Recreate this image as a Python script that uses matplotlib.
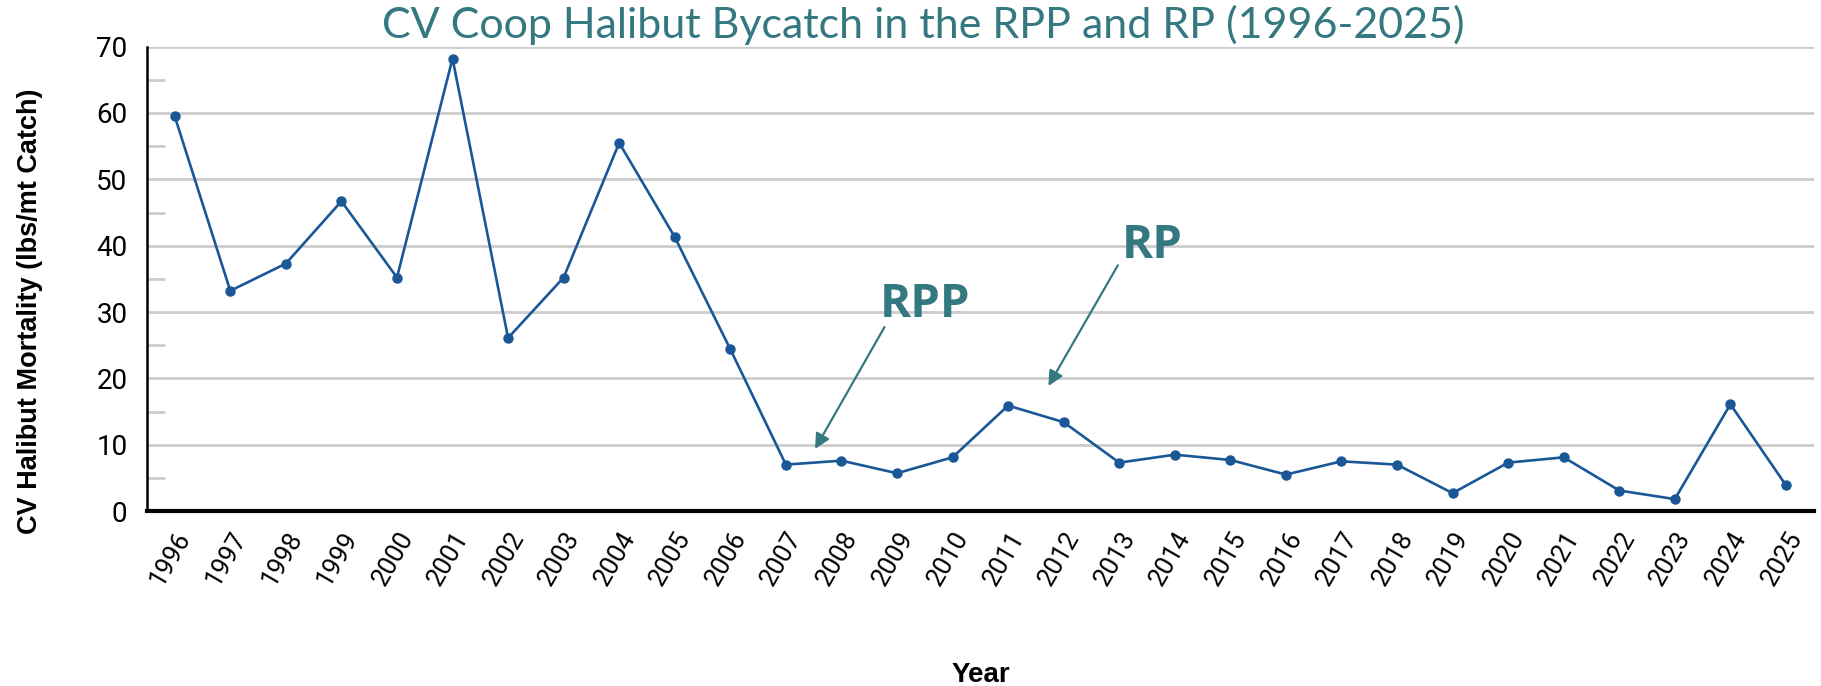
import matplotlib
matplotlib.use("Agg")
import matplotlib.pyplot as plt
from matplotlib.ticker import MultipleLocator

years = list(range(1996, 2026))
mortality = [59.5, 33.2, 37.3, 46.7, 35.2, 68.2, 26.1, 35.2, 55.5, 41.3,
             24.4, 7.0, 7.6, 5.7, 8.1, 15.9, 13.4, 7.3, 8.5, 7.7,
             5.5, 7.5, 7.0, 2.7, 7.3, 8.1, 3.1, 1.8, 16.1, 3.9]

title = "CV Coop Halibut Bycatch in the RPP and RP (1996-2025)"
teal = "#347880"
blue = "#1a5797"

fig = plt.figure(figsize=(18.21, 6.86), dpi=100)
ax = fig.add_axes([0.0807, 0.255, 0.9153, 0.677])

ax.plot(years, mortality, color=blue, lw=1.9, marker="o", ms=6.5, zorder=3)

ax.set_xlim(1995.5, 2025.5)
ax.set_ylim(0, 70)
ax.set_xticks(years)
ax.set_xticklabels([str(y) for y in years], rotation=60, ha="right",
                   rotation_mode="anchor", fontsize=18.5, family="Roboto")
ax.yaxis.set_major_locator(MultipleLocator(10))
ax.yaxis.set_minor_locator(MultipleLocator(5))
for lab in ax.get_yticklabels():
    lab.set_family("Roboto")
ax.tick_params(axis="y", which="major", length=0, labelsize=20, pad=14)
ax.tick_params(axis="y", which="minor", length=13, width=2, color="#cccccc",
               direction="in")
ax.tick_params(axis="x", length=0, pad=12)
ax.grid(axis="y", which="major", color="#cccccc", lw=2)
ax.set_axisbelow(True)

for s in ["top", "right"]:
    ax.spines[s].set_visible(False)
ax.spines["left"].set_linewidth(1.8)
ax.spines["bottom"].set_linewidth(3)

# axis titles placed directly on the figure
fig.text(0.0165, 0.547, "CV Halibut Mortality (lbs/mt Catch)", rotation=90,
         ha="center", va="center", fontsize=19.5, fontweight="bold",
         family="Liberation Sans")
fig.text(0.5385, 0.006, "Year", ha="center", va="baseline", fontsize=20,
         fontweight="bold", family="Liberation Sans")

fig.text(0.507, 0.963, title, ha="center", va="center", fontsize=31,
         color=teal, family="Lato")

ax.annotate("", xy=(2007.5, 9.0), xytext=(2008.8, 28.1),
            arrowprops=dict(arrowstyle="-|>,head_length=0.9,head_width=0.45",
                            color=teal, lw=1.6))
ax.annotate("", xy=(2011.7, 18.5), xytext=(2013.0, 37.4),
            arrowprops=dict(arrowstyle="-|>,head_length=0.9,head_width=0.45",
                            color=teal, lw=1.6))
ax.text(2009.5, 29.3, "RPP", ha="center", va="baseline", fontsize=34,
        fontweight="bold", color=teal, family="Open Sans")
ax.text(2013.6, 38.2, "RP", ha="center", va="baseline", fontsize=34,
        fontweight="bold", color=teal, family="Open Sans")

fig.savefig("out.png", dpi=100)
